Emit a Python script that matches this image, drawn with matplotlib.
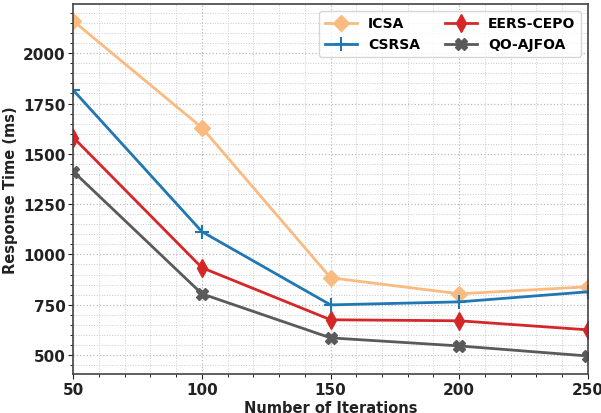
import matplotlib.pyplot as plt
from matplotlib.ticker import MultipleLocator

iteraciones = [50, 100, 150, 200, 250]
icsa = [2160, 1630, 884, 804, 839]
csrsa = [1816, 1113, 749, 764, 814]
eers_cepo = [1581, 934, 675, 670, 625]
qo_ajfoa = [1412, 804, 585, 545, 495]

plt.rcParams['font.family'] = 'DejaVu Sans'
plt.rcParams['font.weight'] = 'bold'

fig, ax = plt.subplots(figsize=(6.01, 4.14), dpi=100)

ax.plot(iteraciones, icsa, color='#f9bb7f', marker='D', markersize=8, linewidth=2, label='ICSA')
ax.plot(iteraciones, csrsa, color='#1f77b4', marker='+', markersize=10, markeredgewidth=1.5, linewidth=2, label='CSRSA')
ax.plot(iteraciones, eers_cepo, color='#d62728', marker='d', markersize=9, linewidth=2, label='EERS-CEPO')
ax.plot(iteraciones, qo_ajfoa, color='#5a5a5a', marker='X', markersize=9, linewidth=2, label='QO-AJFOA')

ax.set_xlim(50, 250)
ax.set_ylim(405, 2245)
ax.xaxis.set_major_locator(MultipleLocator(50))
ax.xaxis.set_minor_locator(MultipleLocator(10))
ax.yaxis.set_major_locator(MultipleLocator(250))
ax.yaxis.set_minor_locator(MultipleLocator(50))
ax.grid(True, which='major', linestyle=':', color='#bbbbbb', linewidth=0.9)
ax.grid(True, which='minor', linestyle=':', color='#cccccc', linewidth=0.7)

ax.set_xlabel('Number of Iterations', fontsize=10.5, fontweight='bold', color='#222222', labelpad=2)
ax.set_ylabel('Response Time (ms)', fontsize=10.5, fontweight='bold', color='#222222', labelpad=4)
ax.tick_params(labelsize=11, colors='#222222', pad=2)
for s in ax.spines.values():
    s.set_color('#444444')
    s.set_linewidth(1.2)

ax.legend(ncol=2, loc='upper right', frameon=True, handlelength=2.3, columnspacing=1.8,
          borderaxespad=0.5, prop={'weight': 'bold', 'size': 10})

plt.subplots_adjust(left=0.122, right=0.978, top=0.988, bottom=0.094)
plt.savefig('out.png', dpi=100)
